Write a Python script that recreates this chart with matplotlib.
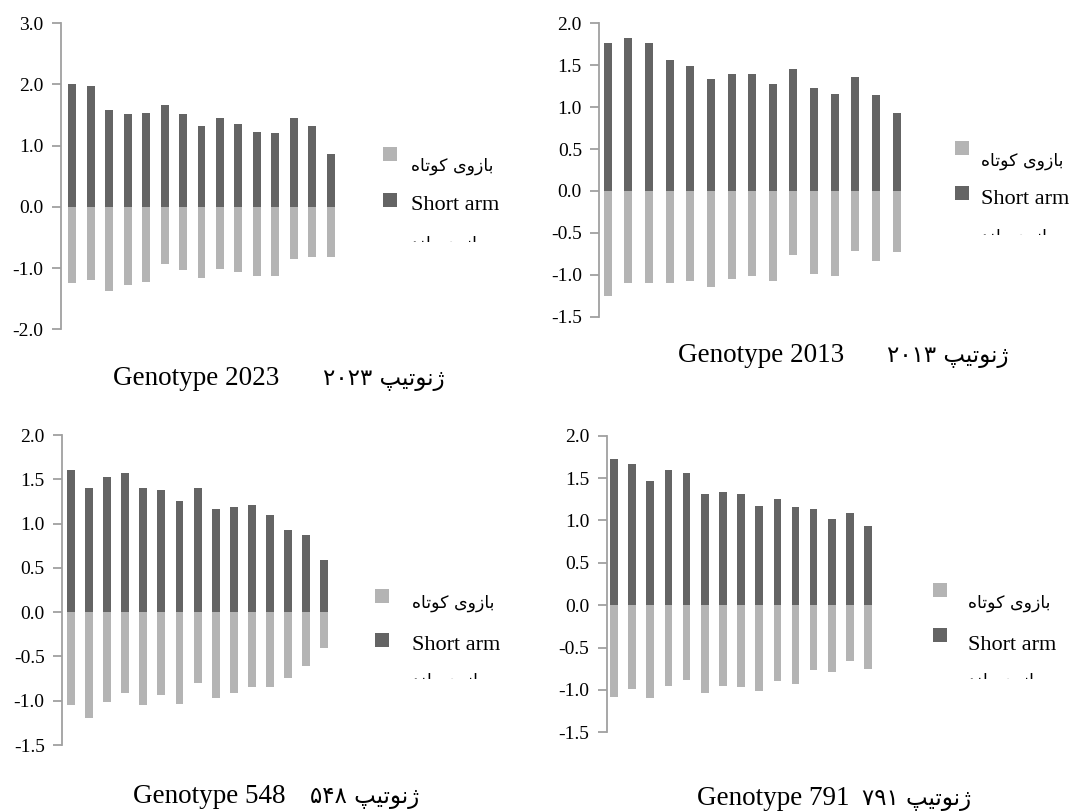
import matplotlib
matplotlib.use('Agg')
import matplotlib.pyplot as plt
from matplotlib.patches import Rectangle
from matplotlib.transforms import Bbox, TransformedBbox

plt.rcParams['axes.unicode_minus'] = False

W, H = 1073, 811

# 数据: 短臂 (深色, 正值) 和 长臂 (浅色, 负值), 每个基因型 15 条染色体
g2023_dark = [2.00, 1.97, 1.58, 1.51, 1.54, 1.67, 1.51, 1.33, 1.45, 1.36, 1.23, 1.20, 1.45, 1.33, 0.87]
g2023_light = [-1.25, -1.19, -1.37, -1.28, -1.22, -0.94, -1.03, -1.16, -1.01, -1.07, -1.13, -1.13, -0.85, -0.82, -0.82]
g2013_dark = [1.76, 1.83, 1.76, 1.56, 1.49, 1.34, 1.40, 1.40, 1.27, 1.45, 1.23, 1.16, 1.36, 1.14, 0.93]
g2013_light = [-1.25, -1.10, -1.10, -1.10, -1.07, -1.15, -1.05, -1.01, -1.07, -0.76, -0.99, -1.01, -0.72, -0.84, -0.73]
g548_dark = [1.61, 1.40, 1.53, 1.57, 1.40, 1.38, 1.25, 1.40, 1.17, 1.19, 1.21, 1.10, 0.93, 0.87, 0.59]
g548_light = [-1.05, -1.20, -1.01, -0.91, -1.05, -0.93, -1.04, -0.80, -0.97, -0.91, -0.84, -0.84, -0.74, -0.61, -0.41]
g791_dark = [1.73, 1.67, 1.47, 1.60, 1.56, 1.31, 1.34, 1.31, 1.17, 1.25, 1.16, 1.13, 1.02, 1.09, 0.94]
g791_light = [-1.08, -0.99, -1.10, -0.95, -0.88, -1.04, -0.95, -0.97, -1.01, -0.90, -0.93, -0.77, -0.79, -0.66, -0.75]

titles_en = ['Genotype 2023', 'Genotype 2013', 'Genotype 548', 'Genotype 791']
# 波斯文 (已手工整形, 视觉顺序)
fa_word = '\uFB57\uFEF4\uFE97\uFEEE\uFEE7\uFB8A'
titles_fa = ['\u06F2\u06F0\u06F2\u06F3 ' + fa_word,
             '\u06F2\u06F0\u06F1\u06F3 ' + fa_word,
             '\u06F5\u06F4\u06F8 ' + fa_word,
             '\u06F7\u06F9\u06F1 ' + fa_word]
leg_short_fa = '\uFEE9\uFE8E\uFE97\uFEEE\uFEDB \uFEEF\uFEED\uFEAF\uFE8E\uFE91'
leg_long_fa = '\uFEAA\uFEE8\uFEE0\uFE91 \uFEEF\uFEED\uFEAF\uFE8E\uFE91'
leg_en = 'Short arm'

DARK = '#646464'
LIGHT = '#b4b4b4'
SPINE = '#a0a0a0'
SERIF = ['Liberation Serif', 'DejaVu Sans']
FA = ['DejaVu Sans']

fig = plt.figure(figsize=(W / 100, H / 100), dpi=100)


def fx(px):
    return px / W


def fy(py):
    return 1 - py / H


# 面板布局: 轴线 x, 顶部 y, 底部 y, 右边 x, y 范围, x 范围左端
panels = [
    dict(dark=g2023_dark, light=g2023_light, x0=61, y0=23.3, y1=329.3, x1=342,
         ylim=(-2.0, 3.0), step=1.0, xl=-0.6, w=0.43,
         leg=(390, 154, 200, 411, 166, 206, 242),
         title=(113, 385, 323)),
    dict(dark=g2013_dark, light=g2013_light, x0=599.3, y0=23.3, y1=316.7, x1=909,
         ylim=(-1.5, 2.0), step=0.5, xl=-0.41, w=0.39,
         leg=(961.5, 147.5, 192.5, 981, 161, 200, 235),
         title=(678, 362, 887)),
    dict(dark=g548_dark, light=g548_light, x0=62, y0=435, y1=745, x1=335,
         ylim=(-1.5, 2.0), step=0.5, xl=-0.5, w=0.44,
         leg=(382, 596, 640, 412, 603, 645, 679),
         title=(133, 803, 310)),
    dict(dark=g791_dark, light=g791_light, x0=606.7, y0=435.7, y1=732.3, x1=879,
         ylim=(-1.5, 2.0), step=0.5, xl=-0.4, w=0.42,
         leg=(940, 590, 635, 968, 603, 645, 679),
         title=(697, 805, 862)),
]

for i, p in enumerate(panels):
    ax = fig.add_axes([fx(p['x0']), fy(p['y1']), fx(p['x1'] - p['x0']), (p['y1'] - p['y0']) / H])
    n = len(p['dark'])
    xs = list(range(n))
    ax.bar(xs, p['dark'], width=p['w'], color=DARK, linewidth=0)
    ax.bar(xs, p['light'], width=p['w'], color=LIGHT, linewidth=0)
    ax.set_xlim(p['xl'], n - 0.4)
    ax.set_ylim(*p['ylim'])
    lo, hi = p['ylim']
    k = int(round((hi - lo) / p['step']))
    ticks = [lo + j * p['step'] for j in range(k + 1)]
    ax.set_yticks(ticks)
    ax.set_yticklabels([f'{t:.1f}' for t in ticks], fontfamily=SERIF, fontsize=14)
    ax.set_xticks([])
    for s in ['top', 'right', 'bottom']:
        ax.spines[s].set_visible(False)
    ax.spines['left'].set_color(SPINE)
    ax.spines['left'].set_linewidth(1.3)
    ax.tick_params(axis='y', length=6.5, width=1.3, color=SPINE, pad=6)

    # 图例
    sx, sy1, sy2, tx, ty1, ty2, clip_y = p['leg']
    for cy, col in [(sy1, LIGHT), (sy2, DARK)]:
        fig.patches.append(Rectangle((fx(sx - 7), fy(cy + 7)), 14 / W, 14 / H,
                                     transform=fig.transFigure, color=col, linewidth=0))
    fig.text(fx(tx), fy(ty1), leg_short_fa, family=FA, fontsize=12.5, va='center', ha='left')
    fig.text(fx(tx), fy(ty2), leg_en, family=SERIF, fontsize=16, va='center', ha='left')
    # 第三行图例在原图中被截断, 只露出上半部分
    t3 = fig.text(fx(tx), fy(clip_y + 2), leg_long_fa, family=FA, fontsize=12.5, va='center', ha='left')
    t3.set_clip_box(TransformedBbox(Bbox.from_extents(0, fy(clip_y), 1, 1), fig.transFigure))
    t3.set_clip_on(True)

    # 标题
    bx, by, px = p['title']
    fig.text(fx(bx), fy(by), titles_en[i], family=SERIF, fontsize=19.5, va='baseline', ha='left')
    fig.text(fx(px), fy(by), titles_fa[i], family=FA, fontsize=16.5, va='baseline', ha='left')

fig.savefig('out.png', dpi=100)
